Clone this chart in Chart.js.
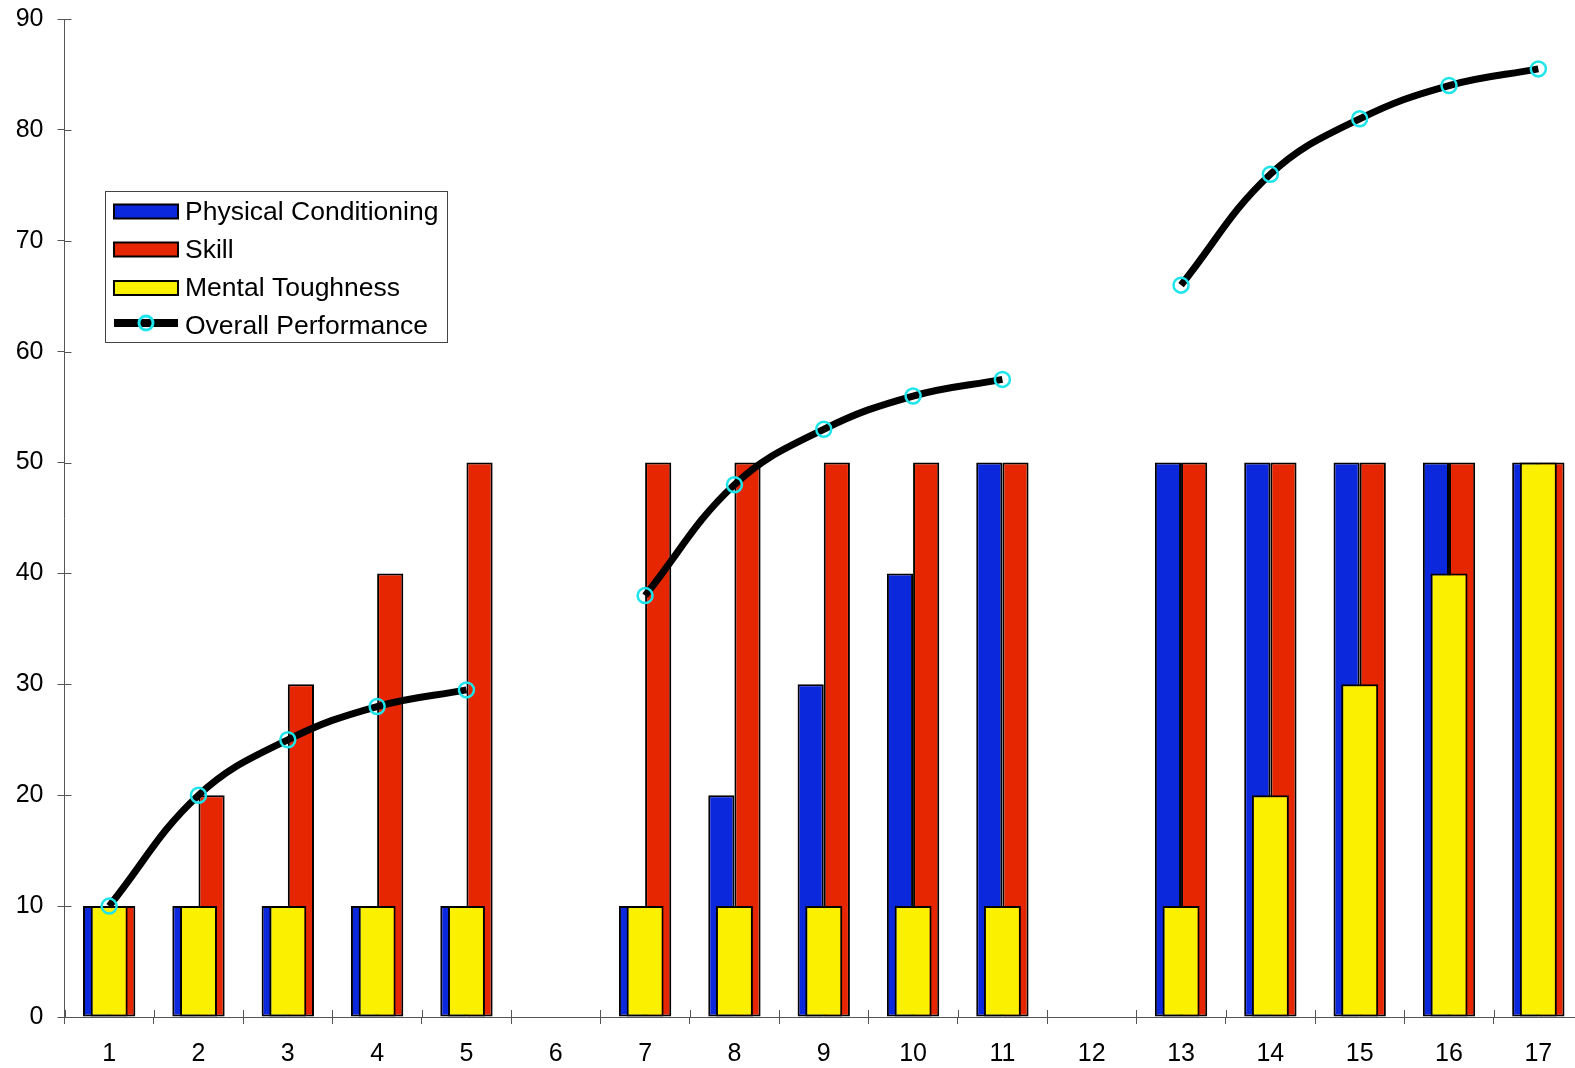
<!DOCTYPE html>
<html>
<head>
<meta charset="utf-8">
<script src="https://cdn.jsdelivr.net/npm/chart.js@4.4.1/dist/chart.umd.min.js"></script>
<style>
  html, body { margin: 0; padding: 0; background: #fff; overflow: hidden; }
  #wrap { width: 1583px; height: 1068px; }
</style>
</head>
<body>
<div id="wrap"><canvas id="c" width="1583" height="1068"></canvas></div>
<script>
// Session numbers along the x axis
const categories = ['1','2','3','4','5','6','7','8','9','10','11','12','13','14','15','16','17'];

// Component scores per session (null = no session)
const physical = [10, 10, 10, 10, 10, null, 10, 20, 30, 40, 50, null, 50, 50, 50, 50, 50];
const skill    = [10, 20, 30, 40, 50, null, 50, 50, 50, 50, 50, null, 50, 50, 50, 50, 50];
const mental   = [10, 10, 10, 10, 10, null, 10, 10, 10, 10, 10, null, 10, 20, 30, 40, 50];

// Combined performance curve
const overall  = [10, 20, 25, 28, 29.5, null, 38, 48, 53, 56, 57.5, null, 66, 76, 81, 84, 85.5];

// Value axis range
const yMin = 0, yMax = 90, yStep = 10;

const COLORS = {
  blue: '#0b28dd',
  red: '#e62600',
  yellow: '#faf000',
  cyan: '#1ee4ec',
  axis: '#555555'
};

Chart.defaults.font.family = "'Liberation Sans', Arial, sans-serif";
Chart.defaults.font.size = 25;
Chart.defaults.color = '#000';

// Tick marks that cross into the plot area as well as outside
const innerTicks = {
  id: 'innerTicks',
  beforeDatasetsDraw(chart) {
    const { ctx, chartArea, scales: { x, y } } = chart;
    ctx.save();
    ctx.strokeStyle = COLORS.axis;
    ctx.lineWidth = 1;
    ctx.beginPath();
    y.ticks.forEach((t, i) => {
      const py = Math.round(y.getPixelForTick(i)) + 0.5;
      ctx.moveTo(chartArea.left, py);
      ctx.lineTo(chartArea.left + 7, py);
    });
    for (let i = 0; i <= categories.length; i++) {
      const px = Math.round(x.getPixelForValue(i - 0.5)) + 0.5;
      ctx.moveTo(px, chartArea.bottom);
      ctx.lineTo(px, chartArea.bottom - 7);
    }
    ctx.stroke();
    ctx.restore();
  }
};

// Boxed legend inside the plot
const boxLegend = {
  id: 'boxLegend',
  afterDraw(chart) {
    const ctx = chart.ctx;
    const ds = chart.data.datasets;
    const box = { x: 105.5, y: 191.5, w: 342, h: 151 };
    ctx.save();
    ctx.fillStyle = '#fff';
    ctx.fillRect(box.x, box.y, box.w, box.h);
    ctx.strokeStyle = '#444';
    ctx.lineWidth = 1;
    ctx.strokeRect(box.x, box.y, box.w, box.h);

    const rows = [211.5, 249.5, 288, 326];
    ctx.font = "26.5px 'Liberation Sans', Arial, sans-serif";
    ctx.textBaseline = 'middle';
    ctx.textAlign = 'left';
    ds.forEach((d, r) => {
      const cy = rows[r];
      if (d.type === 'line') {
        const ly = cy - 3;
        ctx.strokeStyle = '#000';
        ctx.lineWidth = 8;
        ctx.beginPath();
        ctx.moveTo(114, ly);
        ctx.lineTo(178, ly);
        ctx.stroke();
        ctx.strokeStyle = COLORS.cyan;
        ctx.lineWidth = 3;
        ctx.beginPath();
        ctx.arc(146, ly, 7, 0, Math.PI * 2);
        ctx.stroke();
      } else {
        ctx.fillStyle = d.backgroundColor;
        ctx.fillRect(114, cy - 7, 64, 14);
        ctx.strokeStyle = '#000';
        ctx.lineWidth = 2;
        ctx.strokeRect(114, cy - 7, 64, 14);
      }
      ctx.fillStyle = '#000';
      ctx.fillText(d.label, 185, cy + 1);
    });
    ctx.restore();
  }
};

new Chart(document.getElementById('c'), {
  data: {
    labels: categories,
    datasets: [
      {
        type: 'bar',
        label: 'Physical Conditioning',
        data: physical,
        backgroundColor: COLORS.blue,
        borderColor: '#000',
        borderWidth: 2,
        borderSkipped: false,
        categoryPercentage: 0.586,
        barPercentage: 1,
        order: 2
      },
      {
        type: 'bar',
        label: 'Skill',
        data: skill,
        backgroundColor: COLORS.red,
        borderColor: '#000',
        borderWidth: 2,
        borderSkipped: false,
        categoryPercentage: 0.586,
        barPercentage: 1,
        order: 2
      },
      {
        // centred over the blue/red pair instead of sitting beside them
        type: 'bar',
        label: 'Mental Toughness',
        data: mental,
        backgroundColor: COLORS.yellow,
        borderColor: '#000',
        borderWidth: 2,
        borderSkipped: false,
        grouped: false,
        categoryPercentage: 0.414,
        barPercentage: 1,
        order: 1
      },
      {
        type: 'line',
        label: 'Overall Performance',
        data: overall,
        borderColor: '#000',
        borderWidth: 7,
        tension: 0.4,
        spanGaps: false,
        fill: false,
        pointRadius: 7.5,
        pointBorderWidth: 2.5,
        pointBorderColor: COLORS.cyan,
        pointBackgroundColor: 'rgba(0,0,0,0)',
        order: 0
      }
    ]
  },
  options: {
    responsive: false,
    animation: false,
    events: [],
    layout: { autoPadding: false, padding: { top: 19, right: 0, left: 0, bottom: 0 } },
    plugins: {
      legend: { display: false },
      tooltip: { enabled: false }
    },
    scales: {
      x: {
        type: 'category',
        offset: true,
        grid: {
          display: true,
          drawOnChartArea: false,
          drawTicks: true,
          tickLength: 7,
          offset: true,
          color: COLORS.axis,
          tickColor: COLORS.axis
        },
        border: { display: true, color: COLORS.axis, width: 1 },
        ticks: { padding: 15, color: '#000', maxRotation: 0, autoSkip: false, font: { size: 25 } },
        afterFit(s) {
          s.height = 51;
          s.paddingLeft = 0;
          s.paddingRight = 0;
        }
      },
      y: {
        min: yMin,
        max: yMax,
        grid: {
          display: true,
          drawOnChartArea: false,
          drawTicks: true,
          tickLength: 7,
          color: COLORS.axis,
          tickColor: COLORS.axis
        },
        border: { display: true, color: COLORS.axis, width: 1 },
        ticks: { stepSize: yStep, padding: 14, color: '#000', font: { size: 25 } },
        afterFit(s) {
          s.width = 64.5;
          // let the layout padding alone set the plot's top edge
          s.paddingTop = 0;
          s.paddingBottom = 0;
        }
      }
    }
  },
  plugins: [innerTicks, boxLegend]
});
</script>
</body>
</html>
